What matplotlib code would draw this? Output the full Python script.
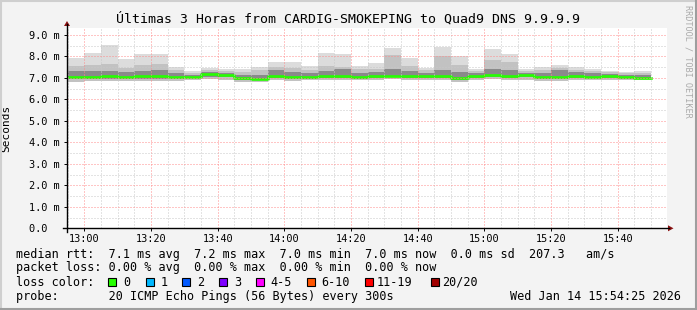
import matplotlib
matplotlib.use("Agg")
import matplotlib.pyplot as plt
from matplotlib.lines import Line2D
from matplotlib.patches import Polygon, Rectangle
import numpy as np

W, H = 697, 310
MONO = "DejaVu Sans Mono"

# 5 minute bins, minutes after 13:00 (first bin starts 12:55)
bin_start = [-5, 0, 5, 10, 15, 20, 25, 30, 35, 40, 45, 50, 55, 60, 65, 70, 75, 80,
             85, 90, 95, 100, 105, 110, 115, 120, 125, 130, 135, 140, 145, 150, 155, 160, 165]

# ping rtt per bin, in ms (read from the smoke)
rtt_max = [7.92, 8.16, 8.53, 7.87, 8.09, 8.09, 7.50, 7.31, 7.47, 7.40, 7.40, 7.50,
           7.74, 7.74, 7.55, 8.15, 8.10, 7.55, 7.68, 8.39, 7.90, 7.47, 8.43, 8.01,
           7.42, 8.33, 8.10, 7.40, 7.50, 7.59, 7.50, 7.40, 7.32, 7.26, 7.33]
rtt_upper = [7.55, 7.60, 7.62, 7.45, 7.60, 7.62, 7.35, 7.22, 7.35, 7.30, 7.28, 7.35,
             7.48, 7.45, 7.38, 7.55, 7.50, 7.40, 7.42, 8.04, 7.55, 7.35, 8.00, 7.60,
             7.30, 7.82, 7.73, 7.30, 7.38, 7.45, 7.38, 7.32, 7.25, 7.20, 7.22]
rtt_inner_hi = [7.30, 7.30, 7.32, 7.25, 7.30, 7.35, 7.22, 7.15, 7.25, 7.22, 7.15, 7.15,
                7.35, 7.28, 7.22, 7.30, 7.42, 7.22, 7.25, 7.40, 7.30, 7.22, 7.35, 7.25,
                7.20, 7.40, 7.35, 7.22, 7.22, 7.35, 7.25, 7.22, 7.18, 7.15, 7.15]
rtt_median = [7.04, 7.03, 7.07, 7.02, 7.06, 7.06, 7.04, 7.05, 7.16, 7.12, 6.97, 6.96,
              7.08, 7.03, 7.03, 7.08, 7.07, 7.02, 7.06, 7.10, 7.07, 7.07, 7.07, 6.97,
              7.08, 7.13, 7.08, 7.13, 7.02, 7.04, 7.07, 7.05, 7.06, 7.03, 6.99]
rtt_inner_lo = [6.92, 6.92, 6.95, 6.92, 6.95, 6.95, 6.95, 6.97, 7.05, 7.02, 6.88, 6.88,
                6.98, 6.94, 6.95, 6.98, 6.98, 6.94, 6.97, 7.02, 6.98, 6.98, 6.98, 6.90,
                6.99, 7.04, 6.99, 7.02, 6.93, 6.92, 6.98, 6.97, 6.98, 6.95, 6.93]
rtt_min = [6.82, 6.84, 6.86, 6.83, 6.86, 6.86, 6.86, 6.90, 6.92, 6.90, 6.80, 6.80,
           6.90, 6.86, 6.88, 6.90, 6.90, 6.88, 6.88, 6.92, 6.90, 6.90, 6.90, 6.82,
           6.90, 6.92, 6.90, 6.90, 6.84, 6.83, 6.90, 6.90, 6.90, 6.88, 6.88]

time_ticks = [0, 20, 40, 60, 80, 100, 120, 140, 160]
time_labels = ["13:00", "13:20", "13:40", "14:00", "14:20", "14:40", "15:00", "15:20", "15:40"]
y_ticks = [0, 1, 2, 3, 4, 5, 6, 7, 8, 9]
y_labels = ["0.0  ", "1.0 m", "2.0 m", "3.0 m", "4.0 m", "5.0 m", "6.0 m", "7.0 m", "8.0 m", "9.0 m"]

loss_labels = ["0", "1", "2", "3", "4-5", "6-10", "11-19", "20/20"]
loss_colors = ["#26ff00", "#00b8ff", "#0059ff", "#7e00ff", "#ff00ff", "#ff5500", "#ff0000", "#a10000"]

title = "Últimas 3 Horas from CARDIG-SMOKEPING to Quad9 DNS 9.9.9.9"
row_rtt = "median rtt:  7.1 ms avg  7.2 ms max  7.0 ms min  7.0 ms now  0.0 ms sd  207.3   am/s"
row_loss = "packet loss: 0.00 % avg  0.00 % max  0.00 % min  0.00 % now"
row_probe = "probe:       20 ICMP Echo Pings (56 Bytes) every 300s"
stamp = "Wed Jan 14 15:54:25 2026"


def fx(x):
    return x / W


def fy(y):
    return 1 - y / H


fig = plt.figure(figsize=(W / 100, H / 100), dpi=100)
fig.patch.set_facecolor("#f3f3f3")

ax = fig.add_axes([fx(67), fy(228.3), 600 / W, 200 / H])
ax.set_facecolor("white")

# smoke
mx, up, ih, md, il, mn = map(np.array, (rtt_max, rtt_upper, rtt_inner_hi, rtt_median, rtt_inner_lo, rtt_min))
ax.bar(bin_start, mx - mn, bottom=mn, width=5, align="edge", color="#dcdcdc", lw=0)
ax.bar(bin_start, up - mn, bottom=mn, width=5, align="edge", color="#c2c2c2", lw=0)
ax.bar(bin_start, ih - il, bottom=il, width=5, align="edge", color="#8a8a8a", lw=0)

# median line
xs = np.append(bin_start, bin_start[-1] + 5)
ax.step(xs, np.append(md, md[-1]), where="post", color=loss_colors[0], lw=1.9)

ax.set_xlim(-5.19, 174.81)
ax.set_ylim(0, 9.3)
ax.set_xticks(time_ticks)
ax.set_xticklabels(time_labels, family=MONO, fontsize=7.4)
ax.set_xticks(np.arange(-5, 175, 5), minor=True)
ax.set_yticks(y_ticks)
ax.set_yticklabels(y_labels, family=MONO, fontsize=7.4)
ax.set_yticks(np.arange(0.5, 9.3, 1.0), minor=True)
ax.tick_params(which="major", length=2.5, width=0.7, pad=2.5, color="black")
ax.tick_params(axis="x", which="major", pad=1.5)
ax.tick_params(which="minor", length=0)
for s in ax.spines.values():
    s.set_visible(False)

ax.set_axisbelow(False)
ax.grid(which="minor", color="#c8c8c8", lw=0.72, linestyle=(0, (1, 2)))
ax.grid(which="major", color="#ff8c8c", lw=0.72, linestyle=(0, (1, 2)))

ax.set_ylabel("Seconds", family=MONO, fontsize=8)
ax.yaxis.set_label_coords(fx(11) / (600 / W) - fx(67) / (600 / W), 0.5)

# axis lines with arrows
fig.add_artist(Line2D([fx(63), fx(669)], [fy(228.3), fy(228.3)], color="black", lw=1.0))
fig.add_artist(Line2D([fx(67), fx(67)], [fy(232), fy(24)], color="black", lw=1.0))
fig.add_artist(Polygon([[fx(668), fy(225.3)], [fx(673.5), fy(228.3)], [fx(668), fy(231.3)]],
                       closed=True, color="#8b1010", lw=0))
fig.add_artist(Polygon([[fx(64), fy(26)], [fx(67), fy(21)], [fx(70), fy(26)]],
                       closed=True, color="#8b1010", lw=0))

# frame
fig.add_artist(Line2D([0, 1], [fy(0.5), fy(0.5)], color="#cfcfcf", lw=1.5))
fig.add_artist(Line2D([fx(0.5), fx(0.5)], [0, 1], color="#cfcfcf", lw=1.5))
fig.add_artist(Line2D([0, 1], [fy(309), fy(309)], color="#9e9e9e", lw=1.5))
fig.add_artist(Line2D([fx(696), fx(696)], [0, 1], color="#9e9e9e", lw=1.5))

fig.text(fx(348.5), fy(19), title, ha="center", va="center", family=MONO, fontsize=9.5)
fig.text(fx(688), fy(5), "RRDTOOL / TOBI OETIKER", rotation=270, ha="center", va="top",
         family=MONO, fontsize=6.1, color="#aaaaaa")

# legend
fig.text(fx(16), fy(254.3), row_rtt, ha="left", va="center", family=MONO, fontsize=8.5)
fig.text(fx(16), fy(268), row_loss, ha="left", va="center", family=MONO, fontsize=8.5)
fig.text(fx(16), fy(282.3), "loss color:", ha="left", va="center", family=MONO, fontsize=8.5)
fig.text(fx(16), fy(296.7), row_probe, ha="left", va="center", family=MONO, fontsize=8.5)
fig.text(fx(681), fy(296.7), stamp, ha="right", va="center", family=MONO, fontsize=8.5)

box_x = [108, 145.7, 182.3, 219, 256, 307.3, 365, 430.7]
label_x = [123, 160.7, 197.3, 234, 270.7, 321.7, 376.5, 442.5]
for bx, lx, c, lab in zip(box_x, label_x, loss_colors, loss_labels):
    fig.add_artist(Rectangle((fx(bx), fy(286.3)), 8 / W, 8 / H, facecolor=c,
                             edgecolor="black", lw=0.8))
    fig.text(fx(lx), fy(282.3), lab, ha="left", va="center", family=MONO, fontsize=8.5)

fig.savefig("out.png", dpi=100)
